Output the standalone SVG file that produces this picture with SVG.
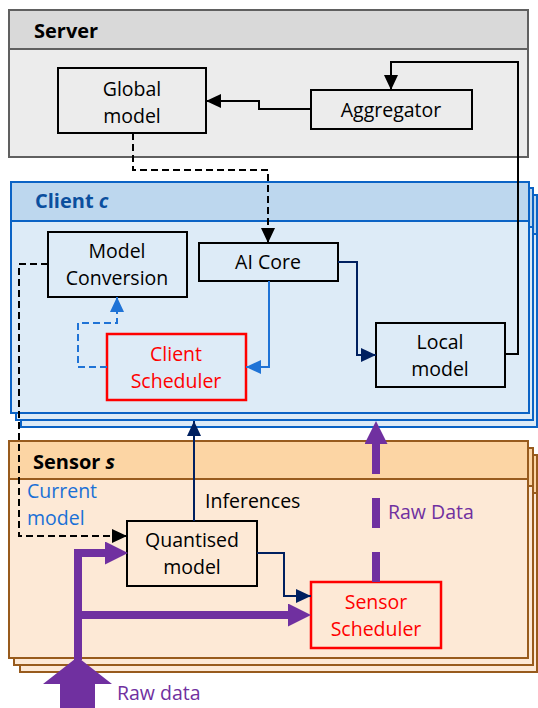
<svg xmlns="http://www.w3.org/2000/svg" width="538" height="708" viewBox="0 0 538 708">
<style>
  text { font-family: "Open Sans", "Noto Sans", "DejaVu Sans", sans-serif; }
  .t { font-size: 19.5px; fill: #000; text-anchor: middle; }
  .tr { font-size: 19.5px; fill: #ff0000; text-anchor: middle; }
  .hdr { font-size: 20px; font-weight: bold; }
  .lbl { font-size: 19.5px; }
  .box { fill: none; stroke: #000; stroke-width: 2; }
  .rbox { fill: none; stroke: #ff0000; stroke-width: 2.5; }
  .srvH { fill: #d9d9d9; stroke: #606060; stroke-width: 2; }
  .srvB { fill: #ececec; stroke: #606060; stroke-width: 2; }
  .cliH { fill: #bdd7ee; stroke: #0b63c5; stroke-width: 2; }
  .cliB { fill: #ddebf7; stroke: #0b63c5; stroke-width: 2; }
  .senH { fill: #fcd5a4; stroke: #985b1d; stroke-width: 2; }
  .senB { fill: #fde9d6; stroke: #985b1d; stroke-width: 2; }
  .cK { fill: none; stroke: #000; stroke-width: 2; }
  .cKd { fill: none; stroke: #000; stroke-width: 2; stroke-dasharray: 7 4; }
  .cN { fill: none; stroke: #002060; stroke-width: 2; }
  .cB { fill: none; stroke: #1f73d6; stroke-width: 2; }
  .cBd { fill: none; stroke: #1f73d6; stroke-width: 2; stroke-dasharray: 7 4; }
  .cP { fill: none; stroke: #7030a0; stroke-width: 8; }
</style>
<defs>
  <marker id="aK" viewBox="0 0 15 14" refX="15" refY="7" markerWidth="15" markerHeight="14" markerUnits="userSpaceOnUse" orient="auto"><path d="M0,0 L15,7 L0,14 z" fill="#000"/></marker>
  <marker id="aN" viewBox="0 0 15 14" refX="15" refY="7" markerWidth="15" markerHeight="14" markerUnits="userSpaceOnUse" orient="auto"><path d="M0,0 L15,7 L0,14 z" fill="#002060"/></marker>
  <marker id="aB" viewBox="0 0 15 14" refX="15" refY="7" markerWidth="15" markerHeight="14" markerUnits="userSpaceOnUse" orient="auto"><path d="M0,0 L15,7 L0,14 z" fill="#1f73d6"/></marker>
  <marker id="aP" viewBox="0 0 23 23" refX="0" refY="11.5" markerWidth="23" markerHeight="23" markerUnits="userSpaceOnUse" orient="auto"><path d="M0,0 L23,11.5 L0,23 z" fill="#7030a0"/></marker>
</defs>

<g id="server">
  <rect class="srvB" x="9" y="10" width="519" height="147"/>
  <rect class="srvH" x="9" y="10" width="519" height="39"/>
  <text class="hdr" x="34" y="38">Server</text>
</g>

<g id="client">
  <rect class="cliB" x="21" y="195" width="516" height="232"/>
  <rect class="cliH" x="21" y="195" width="516" height="39"/>
  <rect class="cliB" x="16" y="188" width="517" height="232"/>
  <rect class="cliH" x="16" y="188" width="517" height="39"/>
  <rect class="cliB" x="11" y="182" width="518" height="231"/>
  <rect class="cliH" x="11" y="182" width="518" height="39"/>
  <text class="hdr" x="35" y="208" fill="#0b4f9e">Client <tspan font-style="italic">c</tspan></text>
</g>

<g id="sensor">
  <rect class="senB" x="20" y="455" width="517" height="217"/>
  <rect class="senH" x="20" y="455" width="517" height="38"/>
  <rect class="senB" x="14" y="448" width="519" height="217"/>
  <rect class="senH" x="14" y="448" width="519" height="38"/>
  <rect class="senB" x="9" y="441" width="519" height="217"/>
  <rect class="senH" x="9" y="441" width="519" height="38"/>
  <text class="hdr" x="33" y="469">Sensor <tspan font-style="italic">s</tspan></text>
</g>

<g id="global-model">
  <rect class="box" x="58" y="68" width="148" height="65"/>
  <text class="t" x="132" y="96">Global</text>
  <text class="t" x="132" y="123">model</text>
</g>
<g id="aggregator">
  <rect class="box" x="311" y="90" width="161" height="39"/>
  <text class="t" x="391" y="117">Aggregator</text>
</g>
<g id="model-conversion">
  <rect class="box" x="48" y="232" width="139" height="65"/>
  <text class="t" x="117" y="258">Model</text>
  <text class="t" x="117" y="285">Conversion</text>
</g>
<g id="ai-core">
  <rect class="box" x="199" y="243" width="139" height="38"/>
  <text class="t" x="268" y="269">AI Core</text>
</g>
<g id="local-model">
  <rect class="box" x="376" y="323" width="129" height="64"/>
  <text class="t" x="440" y="349">Local</text>
  <text class="t" x="440" y="376">model</text>
</g>
<g id="client-scheduler">
  <rect class="rbox" x="107" y="334" width="139" height="66"/>
  <text class="tr" x="176" y="361">Client</text>
  <text class="tr" x="176" y="388">Scheduler</text>
</g>
<g id="quantised-model">
  <rect class="box" x="127" y="521" width="130" height="65"/>
  <text class="t" x="192" y="547">Quantised</text>
  <text class="t" x="192" y="574">model</text>
</g>
<g id="sensor-scheduler">
  <rect class="rbox" x="311" y="582" width="130" height="66"/>
  <text class="tr" x="376" y="609">Sensor</text>
  <text class="tr" x="376" y="636">Scheduler</text>
</g>

<g id="connectors">
  <path class="cK" d="M311,109 H259 V101 H206" marker-end="url(#aK)"/>
  <path class="cK" d="M505,354 H518 V62 H391 V90" marker-end="url(#aK)"/>
  <path class="cKd" d="M133,133 V170 H268 V243" marker-end="url(#aK)"/>
  <path class="cKd" d="M48,264 H19 V536 H127" marker-end="url(#aK)"/>
  <path class="cN" d="M338,262 H357 V355 H376" marker-end="url(#aN)"/>
  <path class="cB" d="M269,281 V367 H246" marker-end="url(#aB)"/>
  <path class="cBd" d="M107,367 H78 V323 H117 V297" marker-end="url(#aB)"/>
  <path class="cN" d="M194,521 V421" marker-end="url(#aN)"/>
  <path class="cN" d="M257,553 H284 V596 H311" marker-end="url(#aN)"/>
  <path class="cP" d="M376,582 V444" stroke-dasharray="30 24" marker-end="url(#aP)"/>
  <path class="cP" d="M78,660 V553 H105" marker-end="url(#aP)"/>
  <path class="cP" d="M78,615 H288" marker-end="url(#aP)"/>
  <polygon points="77.5,657 112,684 95,684 95,708 60,708 60,684 43,684" fill="#7030a0"/>
  <text class="lbl" x="205" y="508" fill="#000">Inferences</text>
  <text class="lbl" x="388" y="519" fill="#7030a0">Raw Data</text>
  <text class="lbl" x="117" y="700" fill="#7030a0">Raw data</text>
  <text class="lbl" x="27" y="498" fill="#1a70d6">Current</text>
  <text class="lbl" x="27" y="525" fill="#1a70d6">model</text>
</g>
</svg>
